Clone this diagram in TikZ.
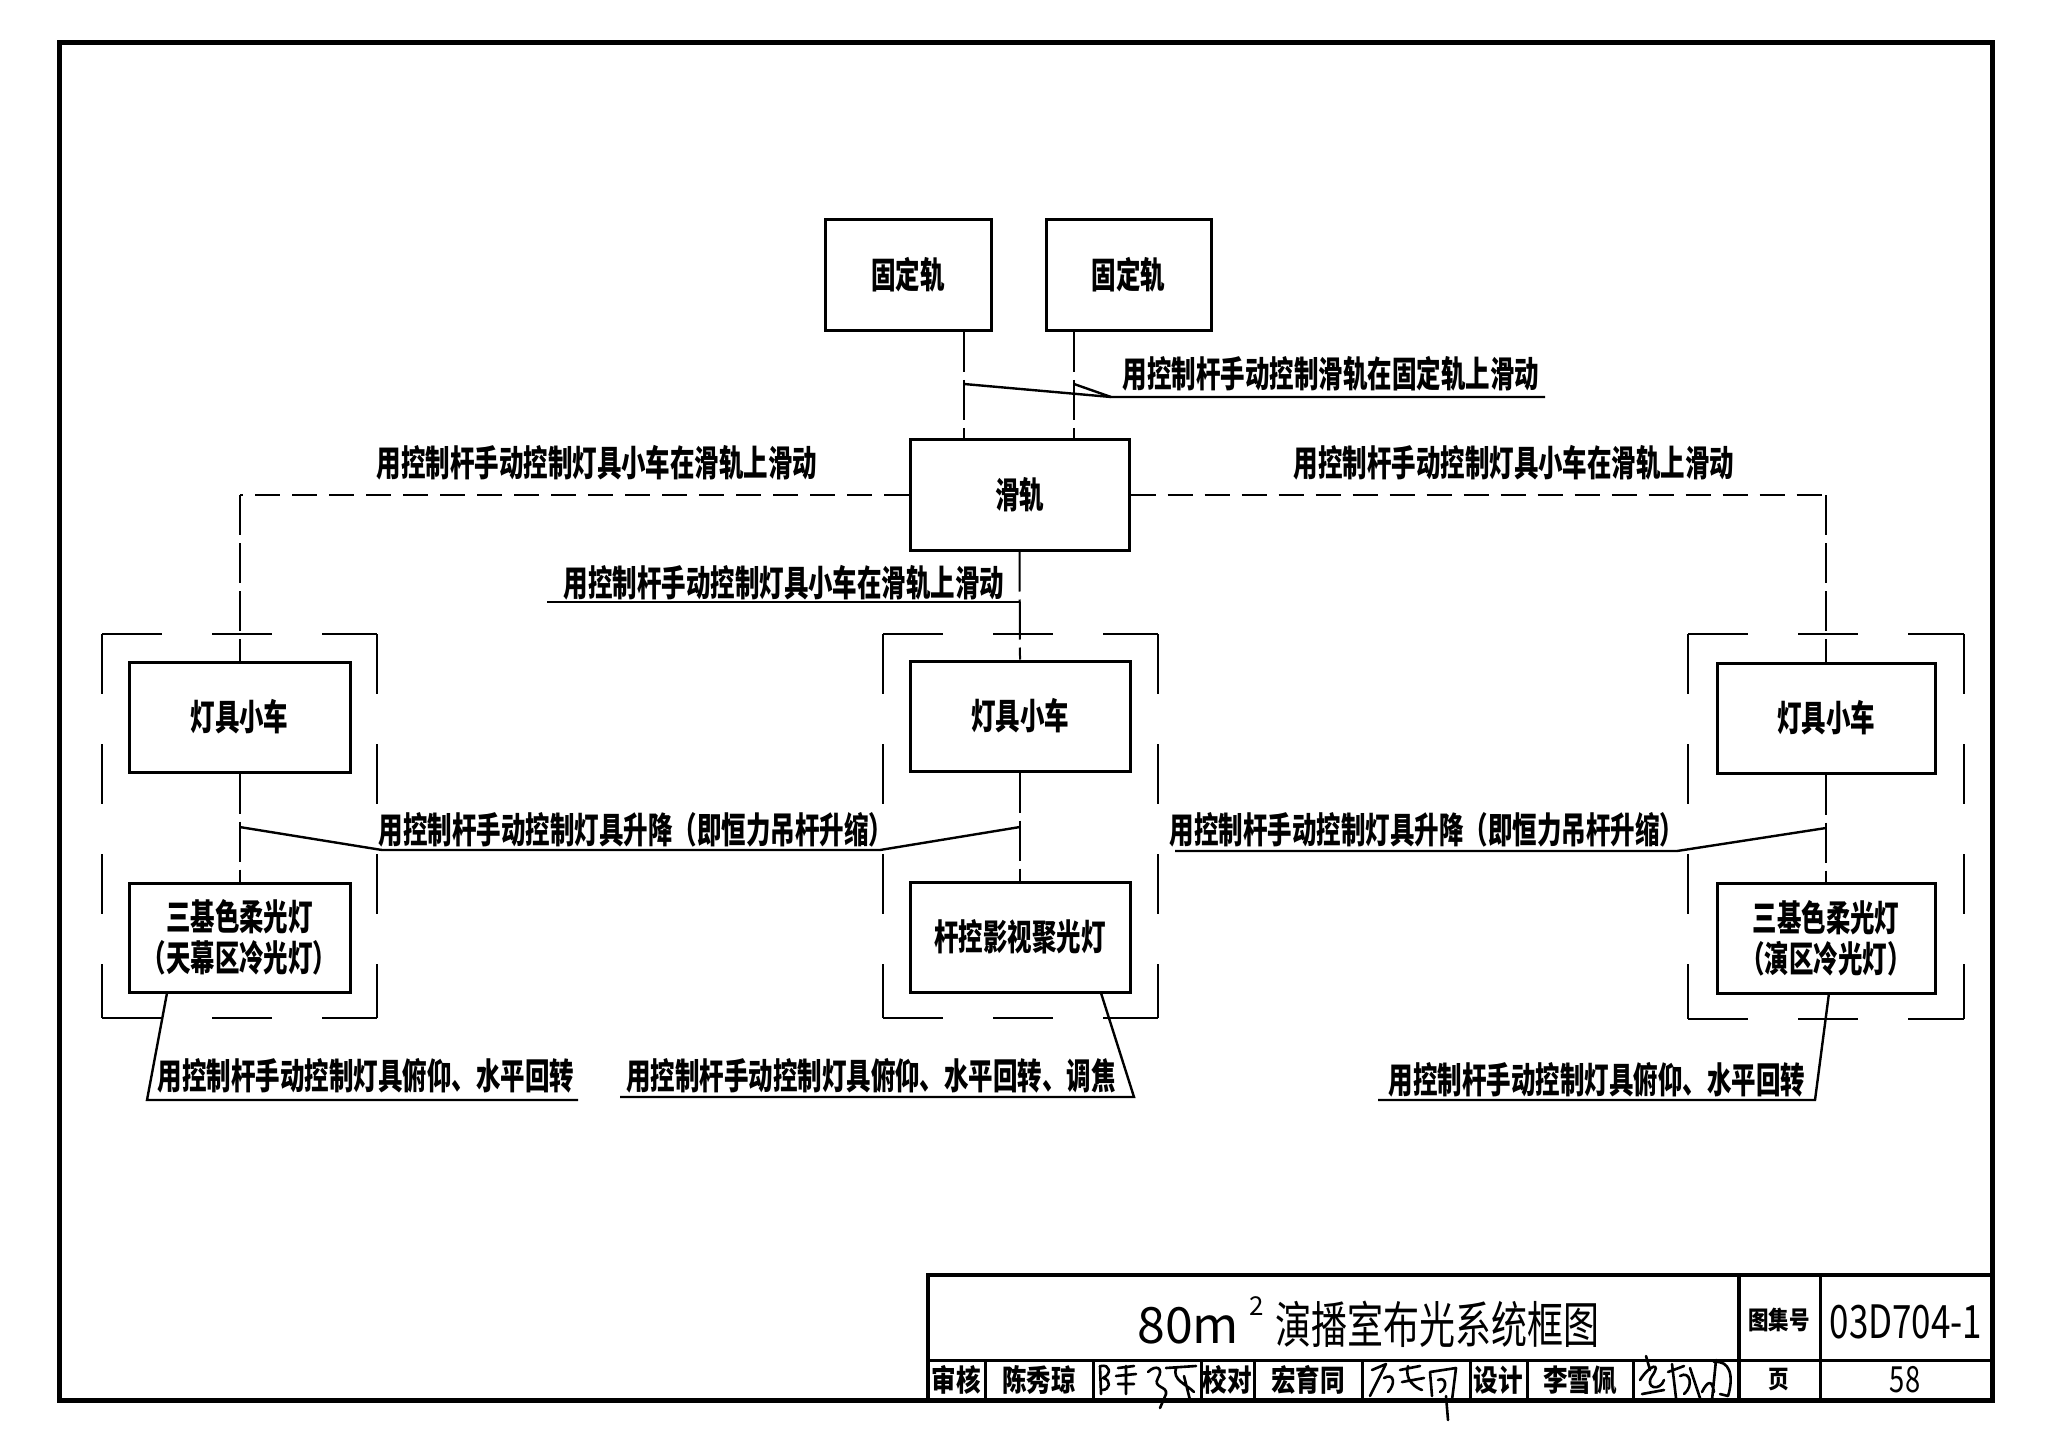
\documentclass[tikz,border=0pt]{standalone}
\usepackage{fontspec}
\newfontfamily\cjk[FakeStretch=0.68]{Noto Sans CJK SC}
\newfontfamily\cjkn[FakeStretch=0.82]{Noto Sans CJK SC}
\newfontfamily\cjkt[FakeStretch=0.72]{Noto Sans CJK SC}
\newfontfamily\numf[FakeStretch=0.76]{Noto Sans CJK SC}
\newfontfamily\numw{Noto Sans CJK SC}
\usetikzlibrary{calc}
\tikzset{
  box/.style={draw, line width=1.5pt, inner sep=0pt, align=center,
    font=\cjk\bfseries\fontsize{18pt}{20.5pt}\selectfont},
  lbl/.style={inner sep=0pt, font=\cjk\bfseries\fontsize{18pt}{20.5pt}\selectfont},
  group/.style={line width=1.2pt, dash pattern=on 30pt off 25pt},
  vlink/.style={line width=1pt, dash pattern=on 20pt off 4pt},
  hlink/.style={line width=1pt, dash pattern=on 12.5pt off 6pt},
  lead/.style={line width=1.2pt},
  tb/.style={line width=1.5pt},
  tbt/.style={line width=2pt},
  cell/.style={inner sep=0pt, font=\cjkn\bfseries\fontsize{15pt}{16pt}\selectfont},
  sig/.style={line width=1.3pt, line cap=round, line join=round},
}
\begin{document}
\begin{tikzpicture}[x=0.5pt,y=-0.5pt]
\useasboundingbox (0,0) rectangle (2048,1443);
\fill[white] (0,0) rectangle (2048,1443);
% outer frame
\draw[line width=2.5pt] (59,43) rectangle (1992,1400);

% boxes
\node[box, minimum width=83pt, minimum height=55.5pt] (fixL) at (908,275) {固定轨};
\node[box, minimum width=82.5pt, minimum height=55.5pt] (fixR) at (1128.5,275) {固定轨};
\node[box, minimum width=109.5pt, minimum height=55pt] (slide) at (1019.5,495) {滑轨};
\node[box, minimum width=110.5pt, minimum height=55pt] (carL) at (239.5,717) {灯具小车};
\node[box, minimum width=110.5pt, minimum height=54.5pt] (lampL) at (239.5,937.5) {三基色柔光灯\\（天幕区冷光灯）};
\node[box, minimum width=110pt, minimum height=55pt] (carM) at (1020,716) {灯具小车};
\node[box, minimum width=110pt, minimum height=55pt] (lampM) at (1020,937) {杆控影视聚光灯};
\node[box, minimum width=109pt, minimum height=55pt] (carR) at (1826,718) {灯具小车};
\node[box, minimum width=109pt, minimum height=55pt] (lampR) at (1826,938) {三基色柔光灯\\（演区冷光灯）};

% dashed group boxes
\foreach \n/\xa/\ya/\xb/\yb in {gL/102/634/377/1018, gM/883/634/1158/1018, gR/1688/634/1964/1019}{
  \coordinate (\n1) at (\xa,\ya);
  \coordinate (\n2) at (\xb,\yb);
  \draw[group] (\n1) -- (\n1 -| \n2);
  \draw[group] (\n1 -| \n2) -- (\n2);
  \draw[group] (\n1) -- (\n1 |- \n2);
  \draw[group] (\n1 |- \n2) -- (\n2);
}

% fixed rails to slide rail
\coordinate (fl) at ($(fixL.south)+(56,0)$);
\coordinate (fr) at ($(fixR.south)+(-54.5,0)$);
\draw[vlink] (fl) -- (fl |- slide.north);
\draw[vlink] (fr) -- (fr |- slide.north);
\node[lbl] (tTop) at (1331,374) {用控制杆手动控制滑轨在固定轨上滑动};
\coordinate (lt1) at (964,384);
\coordinate (lt2) at (1074,384);
\coordinate (ltk) at (1111,397);
\coordinate (lte) at (1545,397);
\draw[lead] (lt1) -- (ltk) -- (lte);
\draw[lead] (lt2) -- (ltk);

% slide rail to cars
\coordinate (kL) at (carL.north |- slide.west);
\coordinate (kR) at (carR.north |- slide.east);
\draw[hlink] (slide.west) -- (kL);
\draw[vlink] (kL) -- (carL.north);
\draw[hlink] (slide.east) -- (kR);
\draw[vlink] (kR) -- (carR.north);
\draw[vlink] (slide.south) -- (carM.north);
\node[lbl] (tUL) at (597,463) {用控制杆手动控制灯具小车在滑轨上滑动};
\node[lbl] (tUR) at (1514,463) {用控制杆手动控制灯具小车在滑轨上滑动};
\node[lbl] (tMid) at (784,583) {用控制杆手动控制灯具小车在滑轨上滑动};
\coordinate (lm1) at (547,602);
\coordinate (lm2) at (slide.south |- lm1);
\draw[lead] (lm1) -- (lm2);

% cars to lamps
\draw[vlink] (carL.south) -- (lampL.north);
\draw[vlink] (carM.south) -- (lampM.north);
\draw[vlink] (carR.south) -- (lampR.north);

% lift labels
\node[lbl] (tLiftL) at (636,830) {用控制杆手动控制灯具升降（即恒力吊杆升缩）};
\coordinate (a1) at (carL.south |- 0,827);
\coordinate (a2) at (382,850);
\coordinate (a3) at (880,850);
\coordinate (a4) at (carM.south |- 0,827);
\draw[lead] (a1) -- (a2) -- (a3) -- (a4);
\node[lbl] (tLiftR) at (1427,830) {用控制杆手动控制灯具升降（即恒力吊杆升缩）};
\coordinate (b1) at (1175,851);
\coordinate (b2) at (1677,851);
\coordinate (b3) at (carR.south |- 0,828);
\draw[lead] (b1) -- (b2) -- (b3);

% tilt labels
\node[lbl] (tBL) at (366,1076) {用控制杆手动控制灯具俯仰、水平回转};
\coordinate (c1) at (167,993);
\coordinate (c2) at (147,1100);
\coordinate (c3) at (578,1100);
\draw[lead] (c1) -- (c2) -- (c3);
\node[lbl] (tBM) at (871,1076) {用控制杆手动控制灯具俯仰、水平回转、调焦};
\coordinate (d1) at (1101,993);
\coordinate (d2) at (1134,1097);
\coordinate (d3) at (620,1097);
\draw[lead] (d1) -- (d2) -- (d3);
\node[lbl] (tBR) at (1597,1080) {用控制杆手动控制灯具俯仰、水平回转};
\coordinate (e1) at (1829,993);
\coordinate (e2) at (1815,1100);
\coordinate (e3) at (1378,1100);
\draw[lead] (e1) -- (e2) -- (e3);

% title block
\draw[tbt] (928,1400) -- (928,1275) -- (1992,1275);
\draw[tb] (928,1360) -- (1992,1360);
\draw[tbt] (1739,1275) -- (1739,1400);
\draw[tb] (1820,1275) -- (1820,1400);
\foreach \x in {985,1093,1201,1254,1362,1470,1527,1633}{
  \draw[tb] (\x,1360) -- (\x,1400);
}
\node[inner sep=0pt, anchor=base west] (ttl) at (1137,1343)
  {\numw\fontsize{25pt}{28pt}\selectfont 80m\hspace{5pt}\raisebox{14pt}{\fontsize{13pt}{13pt}\selectfont 2}\hspace{6pt}{\cjkt 演播室布光系统框图}};
\node[inner sep=0pt, font=\cjkn\bfseries\fontsize{12.5pt}{13pt}\selectfont] (tjh) at (1779,1320) {图集号};
\node[inner sep=0pt, font=\numf\fontsize{23pt}{24pt}\selectfont] (tno) at (1906,1322) {03D704-1};
\node[inner sep=0pt, font=\cjkn\bfseries\fontsize{12.5pt}{13pt}\selectfont] (tye) at (1779,1380) {页};
\node[inner sep=0pt, font=\numf\fontsize{18pt}{19pt}\selectfont] (tpg) at (1905,1380) {58};
\node[cell] (s1) at (956,1380) {审核};
\node[cell] (s2) at (1039,1380) {陈秀琼};
\node[cell] (s3) at (1227.5,1380) {校对};
\node[cell] (s4) at (1308,1380) {宏育同};
\node[cell] (s5) at (1498.5,1380) {设计};
\node[cell] (s6) at (1580,1380) {李雪佩};

% signatures (handwritten strokes)
\draw[sig] (1100,1366) -- (1101,1394);
\draw[sig] (1101,1366) .. controls (1110,1364) and (1112,1374) .. (1103,1378) .. controls (1112,1380) and (1110,1390) .. (1102,1390);
\draw[sig] (1118,1368) -- (1134,1366) (1116,1376) -- (1136,1374) (1126,1366) -- (1126,1394) (1118,1384) -- (1134,1384);
\draw[sig] (1148,1372) .. controls (1156,1364) and (1164,1368) .. (1158,1378) .. controls (1152,1388) and (1168,1386) .. (1166,1394) -- (1160,1408);
\draw[sig] (1166,1368) -- (1196,1366) (1176,1368) .. controls (1172,1380) and (1186,1384) .. (1194,1392) (1184,1376) -- (1190,1400);
\draw[sig] (1372,1370) -- (1386,1364) -- (1378,1380) -- (1370,1396) (1384,1378) .. controls (1394,1372) and (1396,1384) .. (1388,1392);
\draw[sig] (1400,1370) -- (1420,1366) (1408,1366) .. controls (1404,1380) and (1416,1388) .. (1422,1390) (1402,1382) -- (1424,1378);
\draw[sig] (1430,1372) -- (1432,1396) (1430,1372) -- (1456,1368) -- (1452,1400) (1438,1380) .. controls (1446,1376) and (1448,1388) .. (1440,1392) (1446,1396) -- (1448,1420);
\draw[sig] (1640,1380) .. controls (1650,1364) and (1662,1362) .. (1652,1376) .. controls (1644,1388) and (1660,1392) .. (1664,1380) (1646,1356) -- (1650,1370) (1642,1394) -- (1664,1390);
\draw[sig] (1668,1372) -- (1684,1366) (1672,1364) -- (1676,1398) (1680,1376) .. controls (1690,1370) and (1694,1386) .. (1684,1394) (1690,1368) -- (1700,1398);
\draw[sig] (1702,1392) .. controls (1708,1380) and (1712,1380) .. (1714,1392) (1716,1360) -- (1712,1400) (1714,1362) .. controls (1730,1360) and (1734,1376) .. (1728,1396) -- (1720,1394);
\end{tikzpicture}
\end{document}
